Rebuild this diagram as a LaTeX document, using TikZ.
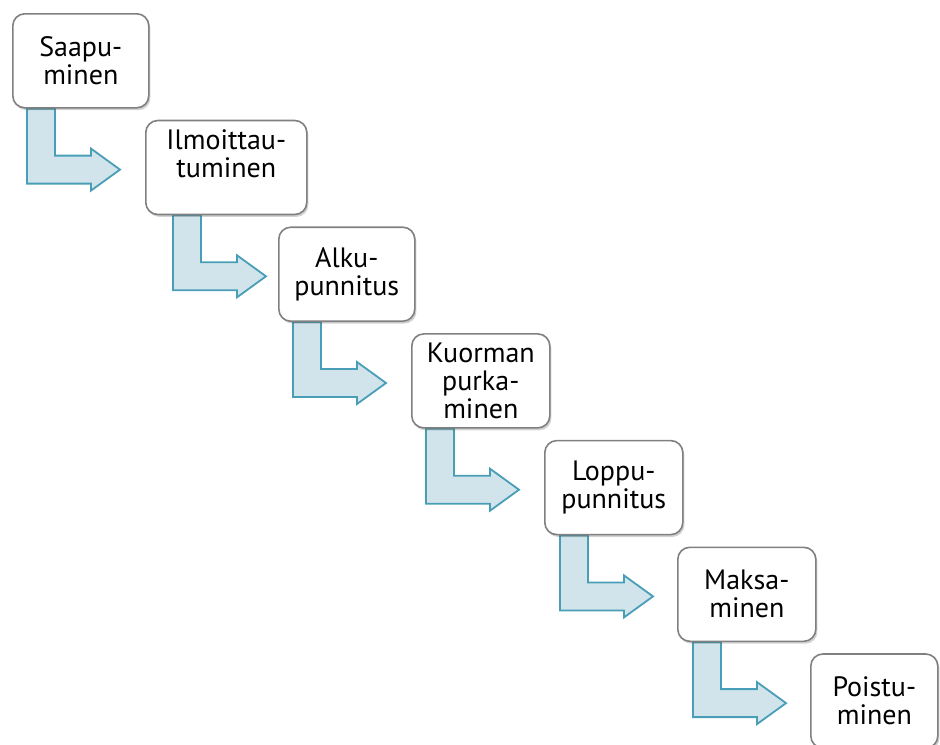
\documentclass[tikz,border=0pt]{standalone}
\usepackage{fontspec}
\setmainfont{PT Sans}
\usepackage{tikz}
\usetikzlibrary{calc,backgrounds,shadows}

\definecolor{kastenrand}{RGB}{128,128,128}
\definecolor{pfeilrand}{RGB}{72,158,182}
\definecolor{pfeilfill}{RGB}{210,228,235}

\tikzset{
  kasten/.style={draw=kastenrand, line width=0.8pt, fill=white, rounded corners=6pt,
    anchor=north west, minimum width=68pt, minimum height=47pt, align=center,
    inner sep=2pt, font=\fontsize{14}{14}\selectfont,
    drop shadow={shadow xshift=0.8pt, shadow yshift=-1.2pt, opacity=0.25, fill=black!70}},
  pfeil/.style={draw=pfeilrand, fill=pfeilfill, line width=0.9pt, line join=miter}
}

\begin{document}
\begin{tikzpicture}[x=0.5pt,y=-0.5pt]
%Bildgroesse wie Vorlage (in Pixeln, y nach unten)
\useasboundingbox (0,0) rectangle (940,744);
  \pgfmathsetmacro{\dx}{133}
  \pgfmathsetmacro{\dy}{106.7}
%Kaesten treppenartig
\foreach \i/\txt/\breite in {1/{Saapu-\\minen}/68,
                             2/{Ilmoittau-\\tuminen\\~}/80.5,
                             3/{Alku-\\punnitus}/68,
                             4/{Kuorman\\purka-\\minen}/69,
                             5/{Loppu-\\punnitus}/69,
                             6/{Maksa-\\minen}/69,
                             7/{Poistu-\\minen}/63.5}{
\node[kasten, minimum width=\breite pt] (b\i) at ({12+(\i-1)*\dx},{13+(\i-1)*\dy}) {\txt};
}
%Winkelpfeile hinter den Kaesten
\begin{scope}[on background layer]
\foreach \i/\versatz in {1/15,2/28,3/15,4/15,5/16,6/16}{
\draw[pfeil, shift={($(b\i.south west)+(\versatz,0)$)}] (0,0) -- (0,75) -- (64,75) -- (64,82) -- (93,61) -- (64,40) -- (64,47) -- (28,47) -- (28,0) -- cycle;
}
\end{scope}
\end{tikzpicture}
\end{document}
